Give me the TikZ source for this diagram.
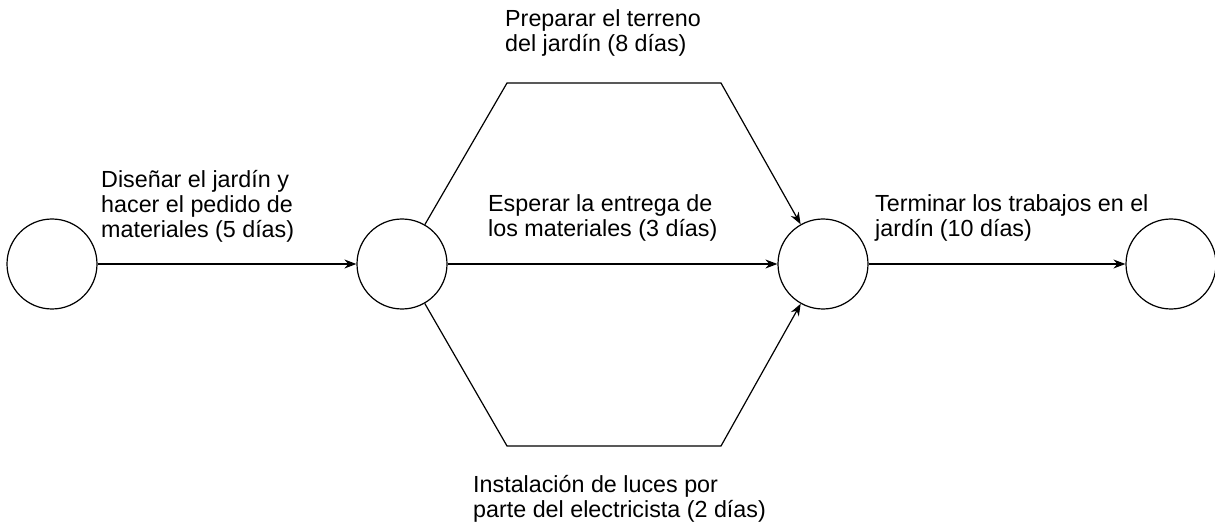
\documentclass[tikz,border=0pt]{standalone}
\usepackage{fontspec}
\setmainfont{Liberation Sans}
\usetikzlibrary{arrows.meta}
\begin{document}
\begin{tikzpicture}[x=1pt,y=-1pt,
  event/.style={circle,draw,line width=1.2pt,minimum size=90pt,inner sep=0pt},
  conn/.style={line width=1.2pt},
  arr/.style={conn,-{Stealth[length=12pt,width=9pt]}},
  lbl/.style={anchor=base west,align=left,inner sep=0pt,font=\fontsize{23.3}{25}\selectfont}]
\useasboundingbox (0,0) rectangle (1215,529);
\node[event] (n1) at (52,264) {};
\node[event] (n2) at (402,264) {};
\node[event] (n3) at (823,264) {};
\node[event] (n4) at (1171,264) {};
\coordinate (t1) at (507,83);
\coordinate (t2) at (721,83);
\coordinate (b1) at (507,446);
\coordinate (b2) at (721,446);
\draw[arr] (n1) -- (n2);
\draw[arr] (n2) -- (n3);
\draw[arr] (n3) -- (n4);
\draw[arr] (n2) -- (t1) -- (t2) -- (n3);
\draw[arr] (n2) -- (b1) -- (b2) -- (n3);
\node[lbl] (l1) at (101,238) {Diseñar el jardín y\\hacer el pedido de\\materiales (5 días)};
\node[lbl] (l2) at (505,52) {Preparar el terreno\\del jardín (8 días)};
\node[lbl] (l3) at (488,237) {Esperar la entrega de\\los materiales (3 días)};
\node[lbl] (l4) at (875,237) {Terminar los trabajos en el\\jardín (10 días)};
\node[lbl] (l5) at (473,517) {Instalación de luces por\\parte del electricista (2 días)};
\end{tikzpicture}
\end{document}
